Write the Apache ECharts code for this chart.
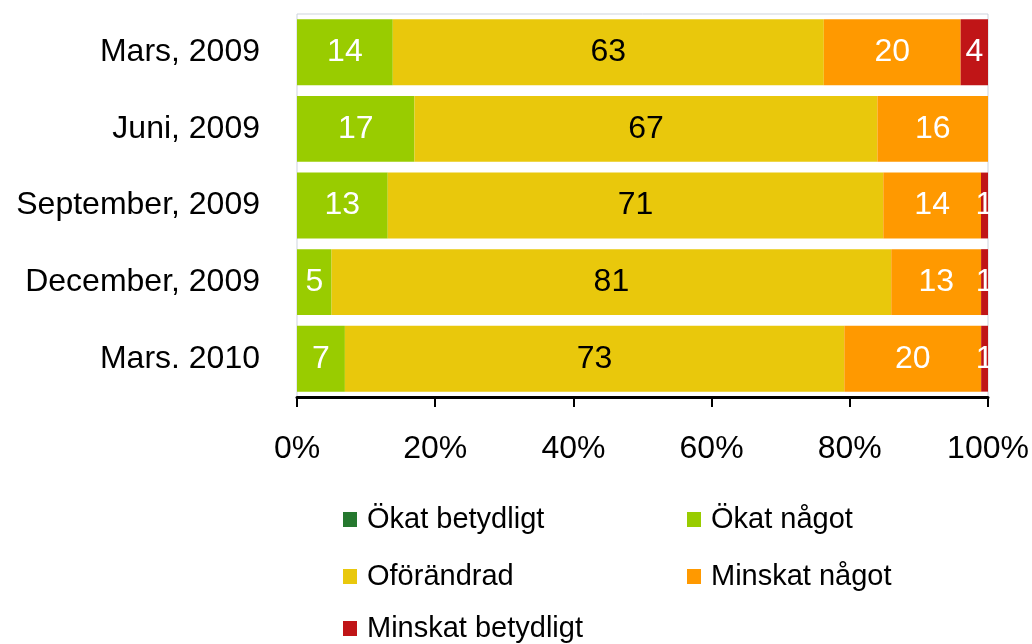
<!DOCTYPE html>
<html>
<head>
<meta charset="utf-8">
<title>Förändring</title>
<script src="https://cdn.jsdelivr.net/npm/echarts@6/dist/echarts.min.js"></script>
<style>
  html, body { margin: 0; padding: 0; background: #fff; }
  #chart { width: 1032px; height: 644px; }
</style>
</head>
<body>
<div id="chart"></div>
<script>
// categories (top to bottom)
const periods = ['Mars, 2009', 'Juni, 2009', 'September, 2009', 'December, 2009', 'Mars. 2010'];

// raw answer shares per period
const okatBetydligt = [0, 0, 0, 0, 0];
const okatNagot = [14, 17, 13, 5, 7];
const oforandrad = [63, 67, 71, 81, 73];
const minskatNagot = [20, 16, 14, 13, 20];
const minskatBetydligt = [4, 0, 1, 1, 1];

const xTicks = [0, 20, 40, 60, 80, 100];

const seriesDefs = [
  { name: 'Ökat betydligt', values: okatBetydligt, color: '#25782e', label: '#fff' },
  { name: 'Ökat något', values: okatNagot, color: '#99cc00', label: '#fff' },
  { name: 'Oförändrad', values: oforandrad, color: '#e9c80c', label: '#000' },
  { name: 'Minskat något', values: minskatNagot, color: '#ff9900', label: '#fff' },
  { name: 'Minskat betydligt', values: minskatBetydligt, color: '#c01517', label: '#fff' }
];

// 100% stacked: each bar is normalised to its own total
const totals = periods.map((p, i) => seriesDefs.reduce((s, d) => s + d.values[i], 0));

const FONT = '"Liberation Sans", Arial, sans-serif';

const chart = echarts.init(document.getElementById('chart'));

const series = seriesDefs.map(d => ({
  name: d.name,
  type: 'bar',
  stack: 'all',
  barCategoryGap: '14%',
  data: d.values.map((v, i) => v / totals[i] * 100),
  itemStyle: { color: d.color },
  label: {
    show: true,
    position: 'inside',
    color: d.label,
    fontFamily: FONT,
    fontSize: 32,
    formatter: p => (d.values[p.dataIndex] > 0 ? String(d.values[p.dataIndex]) : '')
  },
  emphasis: { disabled: true }
}));

// legend layout: two columns, three rows
const legendPos = [
  { left: 343, top: 505 },
  { left: 687, top: 505 },
  { left: 343, top: 562 },
  { left: 687, top: 562 },
  { left: 343, top: 614 }
];
const legends = seriesDefs.map((d, i) => ({
  data: [d.name],
  left: legendPos[i].left,
  top: legendPos[i].top,
  padding: 0,
  icon: 'rect',
  itemWidth: 14,
  itemHeight: 15,
  selectedMode: false,
  textStyle: { fontFamily: FONT, fontSize: 29, color: '#000', padding: [0, 0, 0, 5] }
}));

const option = {
  animation: false,
  textStyle: { fontFamily: FONT },
  grid: {
    left: 297,
    right: 44,
    top: 14,
    bottom: 247,
    show: true,
    borderColor: '#cdd3dd',
    borderWidth: 1
  },
  xAxis: {
    type: 'value',
    min: 0,
    max: 100,
    interval: 20,
    axisLine: { show: true, lineStyle: { color: '#000', width: 3 } },
    axisTick: { show: true, length: 10, lineStyle: { color: '#000', width: 2 } },
    splitLine: { show: false },
    axisLabel: {
      color: '#000',
      fontFamily: FONT,
      fontSize: 32,
      margin: 36,
      formatter: v => (xTicks.includes(v) ? v + '%' : '')
    }
  },
  yAxis: {
    type: 'category',
    inverse: true,
    data: periods,
    axisLine: { show: false },
    axisTick: { show: false },
    axisLabel: { color: '#000', fontFamily: FONT, fontSize: 32, margin: 37 }
  },
  legend: legends,
  series: series
};

chart.setOption(option);
</script>
</body>
</html>
